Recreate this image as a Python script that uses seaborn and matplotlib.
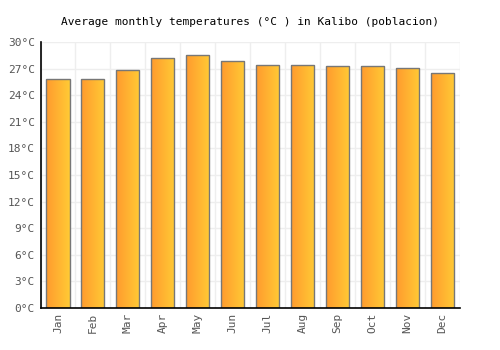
import numpy as np
import pandas as pd
import matplotlib
matplotlib.use("Agg")
import matplotlib.pyplot as plt
import seaborn as sns
from matplotlib.colors import LinearSegmentedColormap

months = ["Jan", "Feb", "Mar", "Apr", "May", "Jun", "Jul", "Aug", "Sep", "Oct", "Nov", "Dec"]
temps = [25.9, 25.9, 26.9, 28.2, 28.6, 27.85, 27.4, 27.4, 27.3, 27.3, 27.05, 26.5]
yticks = [0, 3, 6, 9, 12, 15, 18, 21, 24, 27, 30]
ytick_labels = [f"{v}°C" for v in yticks]
title = "Average monthly temperatures (°C ) in Kalibo (poblacion)"

sns.set_style("white")
plt.rcParams['font.family'] = ['DejaVu Sans Mono', 'DejaVu Sans']

df = pd.DataFrame({"month": months, "temp": temps})

fig = plt.figure(figsize=(5, 3.5), dpi=100)
ax = fig.add_axes([0.081, 0.121, 0.839, 0.758])

sns.barplot(data=df, x="month", y="temp", ax=ax, width=0.66,
            color="#ffb030", edgecolor="#777777", linewidth=1.0, saturation=1)

ax.set_ylim(0, 30)
ax.set_xlim(-0.5, len(months) - 0.5)

cmap = LinearSegmentedColormap.from_list("g", ["#ff9a2e", "#ffcb35"])
grad = np.linspace(0, 1, 256).reshape(1, -1)
for p in ax.patches:
    x0, y0 = p.get_x(), p.get_y()
    w, h = p.get_width(), p.get_height()
    im = ax.imshow(grad, cmap=cmap, aspect="auto", extent=[x0, x0 + w, y0, y0 + h],
                   zorder=p.get_zorder() + 0.1, interpolation="bilinear")
    im.set_clip_path(p)
    p.set_facecolor("none")
    p.set_zorder(p.get_zorder() + 0.2)
ax.set_xlim(-0.5, len(months) - 0.5)
ax.set_ylim(0, 30)

ax.set_yticks(yticks)
ax.set_yticklabels(ytick_labels)
ax.set_xticks(range(len(months)))
ax.set_xticklabels(months, rotation=90)
ax.set_xticks(np.arange(-0.5, len(months), 1), minor=True)
ax.grid(False)
ax.grid(True, axis="y", which="major", color="#eeeeee", linewidth=1, zorder=0)
ax.grid(True, axis="x", which="minor", color="#eeeeee", linewidth=1, zorder=0)
ax.set_axisbelow(True)
ax.tick_params(axis="both", which="both", length=0, labelsize=8, labelcolor="#555555", pad=4)
ax.set_xlabel("")
ax.set_ylabel("")

for s in ["top", "right"]:
    ax.spines[s].set_visible(False)
ax.spines["left"].set_color("black")
ax.spines["bottom"].set_color("black")
ax.spines["left"].set_linewidth(1.2)
ax.spines["bottom"].set_linewidth(1.2)

fig.text(0.5, 0.937, title, ha="center", va="center", fontsize=8, color="black")

fig.savefig("out.png", dpi=100)
